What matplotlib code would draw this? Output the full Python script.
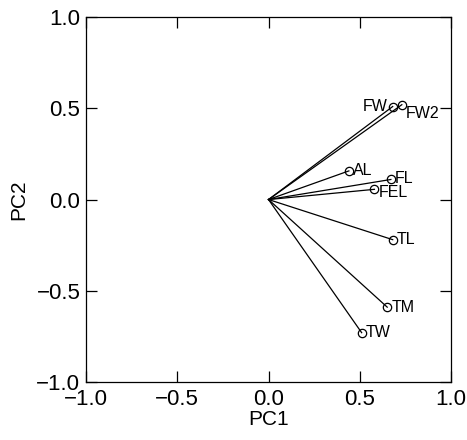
import matplotlib
matplotlib.use("Agg")
import matplotlib.pyplot as plt

plt.rcParams['font.family'] = ['Liberation Sans', 'DejaVu Sans']

# loadings on the first two principal components
variables = ['FW', 'FW2', 'AL', 'FL', 'FEL', 'TL', 'TM', 'TW']
pc1 = [0.68, 0.73, 0.44, 0.67, 0.58, 0.68, 0.65, 0.51]
pc2 = [0.51, 0.52, 0.157, 0.11, 0.056, -0.22, -0.59, -0.73]

# label placement (offset in points, alignment)
label_offsets = {'FW': (-4, 0, 'right', 'center'),
                 'FW2': (3, -6, 'left', 'center'),
                 'FL': (3, 0.5, 'left', 'center'),
                 'FEL': (3, -2.5, 'left', 'center')}

fig = plt.figure(figsize=(4.67, 4.4), dpi=100)
ax = fig.add_axes([0.184, 0.132, 0.782, 0.829])

for name, x, y in zip(variables, pc1, pc2):
    ax.plot([0, x], [0, y], color='black', lw=0.9)
    ax.plot(x, y, marker='o', ms=6, mfc='none', mec='black', mew=0.9)
    dx, dy, ha, va = label_offsets.get(name, (3, 0, 'left', 'center'))
    ax.annotate(name, (x, y), xytext=(dx, dy), textcoords='offset points',
                ha=ha, va=va, fontsize=11.5)

ax.set_xlim(-1, 1)
ax.set_ylim(-1, 1)
ticks = [-1.0, -0.5, 0.0, 0.5, 1.0]
ax.set_xticks(ticks)
ax.set_yticks(ticks)
ax.set_xticklabels([f"{t:.1f}".replace('-', '\u2212') for t in ticks])
ax.set_yticklabels([f"{t:.1f}".replace('-', '\u2212') for t in ticks])
ax.tick_params(direction='in', length=8, width=0.9, labelsize=16,
               top=True, right=True)
ax.tick_params(axis='x', pad=5)
ax.tick_params(axis='y', pad=4)
for s in ax.spines.values():
    s.set_linewidth(0.9)
ax.set_xlabel('PC1', fontsize=15, labelpad=0)
ax.set_ylabel('PC2', fontsize=15, labelpad=6)

fig.savefig('out.png', dpi=100)
